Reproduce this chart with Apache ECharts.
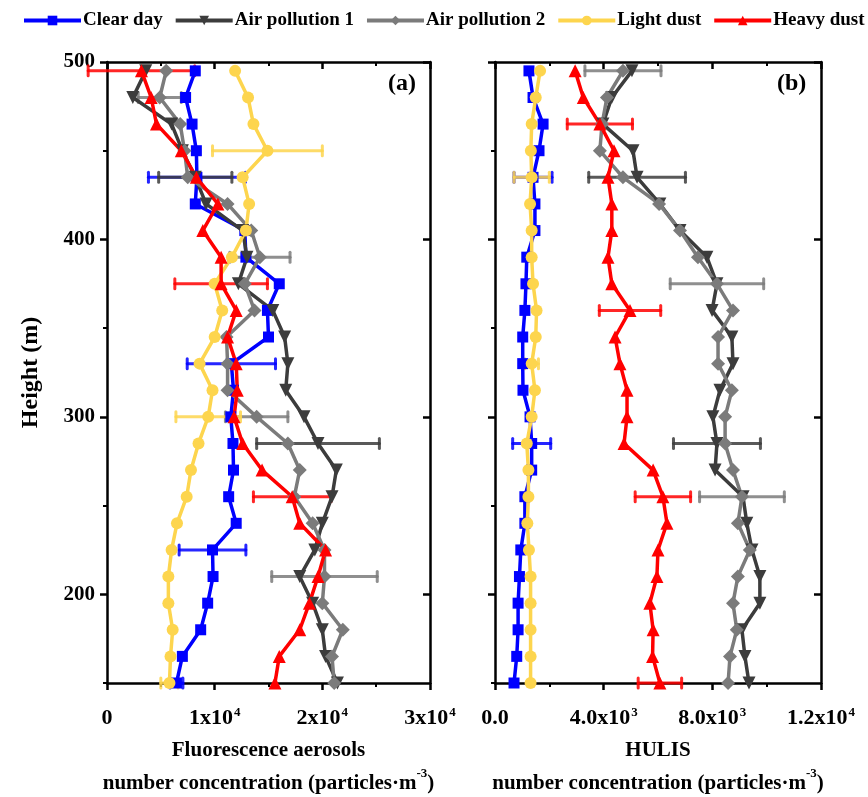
<!DOCTYPE html>
<html>
<head>
<meta charset="utf-8">
<script src="https://cdn.jsdelivr.net/npm/echarts@6/dist/echarts.min.js"></script>
<style>
html,body{margin:0;padding:0;background:#fff;}
#main{width:868px;height:797px;}
</style>
</head>
<body>
<div id="main"></div>
<script>
// ---------- data ----------
const heights = [495,480,465,450,435,420,405,390,375,360,345,330,315,300,285,270,255,240,225,210,195,180,165,150];
const seriesNames = ['Clear day','Air pollution 1','Air pollution 2','Light dust','Heavy dust'];

// Panel (a): fluorescence aerosols (particles m^-3)
const faClear = [8200,7300,7900,8300,8350,8200,12800,12900,16000,14900,15000,11550,11750,11500,11700,11750,11300,12000,9800,9850,9350,8700,7000,6450];
const faAP1   = [3600,2400,6000,7000,8200,9200,12600,13000,12200,15400,16500,16800,16600,18300,19600,21300,20900,20000,19300,17900,19100,20000,20300,21400];
const faAP2   = [5500,4900,6800,7200,7500,11200,13400,14200,12800,13700,11100,11200,11200,13900,16800,17900,17400,19100,20200,20200,20000,21900,20900,21100];
const faLight = [11900,13100,13600,14900,12600,13200,12900,11600,10000,10700,10000,8600,9800,9400,8500,7800,7400,6500,6000,5700,5700,6100,5900,5800];
const faHeavy = [3200,4100,4600,6900,8300,10300,8900,10600,10600,12000,11200,12000,12100,11800,12600,14400,17200,17900,20300,19600,18800,17900,16000,15600];

// Panel (b): HULIS (particles m^-3)
const huClear = [1250,1400,1770,1620,1400,1470,1470,1170,1140,1100,1020,1020,1030,1290,1350,1350,1100,1100,950,900,850,850,800,700];
const huAP1   = [5040,4300,3970,5080,5230,6070,6810,7800,8170,7990,8720,8760,8280,8020,8170,8100,9130,9270,9460,9750,9750,9090,9200,9350];
const huAP2   = [4710,4120,3940,3860,4710,6040,6810,7470,8170,8760,8210,8210,8720,8470,8470,8760,9090,8940,9380,8940,8760,8900,8650,8580];
const huLight = [1660,1500,1350,1320,1350,1290,1350,1350,1400,1530,1500,1350,1470,1350,1170,1230,1230,1190,1250,1310,1310,1310,1310,1310];
const huHeavy = [2950,3250,3860,4380,4160,4300,4300,4160,4300,4970,4420,4600,4860,4860,4750,5820,6180,6330,6000,5960,5700,5820,5800,6070];

// error bars: [height, half-width]
const faClearErr = [[435,4500],[330,4100],[225,3100],[150,600]];
const faAP1Err   = [[435,3400],[285,5700]];
const faAP2Err   = [[480,2000],[390,2800],[300,2900],[210,4900]];
const faLightErr = [[450,5100],[300,3000],[150,800]];
const faHeavyErr = [[495,4950],[375,4300],[255,3600]];
const huClearErr = [[435,700],[285,700]];
const huAP1Err   = [[435,1780],[285,1600]];
const huAP2Err   = [[495,1400],[375,1720],[255,1560]];
const huLightErr = [[435,650],[330,250]];
const huHeavyErr = [[465,1200],[360,1130],[255,1020],[150,800]];

const yMajor = [200,300,400,500];
const yMinor = [150,250,350,450];

// ---------- style ----------
const FONT = '"Liberation Serif","Times New Roman",serif';
const colors = ['#0000ff','#3c3c3c','#7b7b7b','#fdd54e','#ff0000'];
const symbols = ['rect','triangle','diamond','circle','triangle'];
const symRot = [0,180,0,0,0];
const symSize = [11,13,14,12,13];

function pairs(vals){ return vals.map((v,i)=>[v,heights[i]]); }
function errData(vals, errs){ return errs.map(e=>[vals[heights.indexOf(e[0])], e[0], e[1]]); }

function errSeries(name, vals, errs, color, gi){
  return {
    type:'custom', name:name+' err', xAxisIndex:gi*2, yAxisIndex:gi*4,
    clip:false, z:3, silent:true,
    data: errData(vals, errs),
    renderItem: function(params, api){
      const c=api.value(0), h=api.value(1), d=api.value(2);
      const p1=api.coord([c-d,h]), p2=api.coord([c+d,h]);
      const cap=5;
      const st={stroke:color, lineWidth:3, opacity:0.85, lineCap:'round'};
      return {type:'group', children:[
        {type:'line', shape:{x1:p1[0],y1:p1[1],x2:p2[0],y2:p2[1]}, style:st},
        {type:'line', shape:{x1:p1[0],y1:p1[1]-cap,x2:p1[0],y2:p1[1]+cap}, style:st},
        {type:'line', shape:{x1:p2[0],y1:p2[1]-cap,x2:p2[0],y2:p2[1]+cap}, style:st}
      ]};
    }
  };
}
function lineSeries(k, vals, gi){
  return {
    type:'line', name:seriesNames[k], xAxisIndex:gi*2, yAxisIndex:gi*4,
    data: pairs(vals), symbol:symbols[k], symbolRotate:symRot[k], symbolSize:symSize[k],
    showAllSymbol:true, z:4,
    itemStyle:{color:colors[k]}, lineStyle:{color:colors[k], width:3.5}
  };
}

const grids = [
  {left:107, top:62, width:323, height:621, outerBoundsMode:'none', containLabel:false},
  {left:495, top:62, width:326, height:621, outerBoundsMode:'none', containLabel:false}
];

function supFmt(v, decimals){
  if (v===0) return decimals ? '{b|0.0}' : '{b|0}';
  const e=Math.floor(Math.log10(v)+1e-9);
  const m=v/Math.pow(10,e);
  return '{b|'+(decimals?m.toFixed(1):String(Math.round(m)))+'x10}{s|'+e+'}';
}
const labRich = {
  b:{fontFamily:FONT, fontWeight:'bold', fontSize:22, color:'#000', lineHeight:24},
  s:{fontFamily:FONT, fontWeight:'bold', fontSize:13, color:'#000', verticalAlign:'top', lineHeight:14, padding:[0,0,0,1]}
};
const nameRich = {
  s:{fontFamily:FONT, fontWeight:'bold', fontSize:13, color:'#000', verticalAlign:'top', lineHeight:14}
};

function xAxes(gi, max, interval, decimals, name){
  const line={show:true, onZero:false, lineStyle:{color:'#000', width:2.5}};
  return [
    {type:'value', gridIndex:gi, position:'bottom', min:0, max:max, interval:interval,
     axisLine:line, splitLine:{show:false},
     axisTick:{show:true, inside:false, length:7, lineStyle:{color:'#000', width:2.5}},
     minorTick:{show:true, splitNumber:2, length:4, lineStyle:{color:'#000', width:2}},
     axisLabel:{margin:23, formatter:v=>supFmt(v,decimals), rich:labRich},
     name:name, nameLocation:'middle', nameGap:51,
     nameTextStyle:{fontFamily:FONT, fontWeight:'bold', fontSize:21, color:'#000', lineHeight:33, rich:nameRich}},
    {type:'value', gridIndex:gi, position:'top', min:0, max:max, interval:interval,
     axisLine:line, splitLine:{show:false},
     axisTick:{show:true, inside:true, length:7, lineStyle:{color:'#000', width:2.5}},
     minorTick:{show:true, splitNumber:2, length:4, lineStyle:{color:'#000', width:2}},
     axisLabel:{show:false}}
  ];
}
function yAxes(gi, labels){
  const base={type:'value', gridIndex:gi, min:150, max:500, interval:50, splitLine:{show:false}};
  const line={show:true, onZero:false, lineStyle:{color:'#000', width:2.5}};
  const ax0 = Object.assign({}, base, {
    position:'left', axisLine:line,
    axisTick:{show:true, inside:false, length:7, customValues:yMajor, lineStyle:{color:'#000', width:2.5}},
    axisLabel:{show:labels, customValues:yMajor, margin:12, fontFamily:FONT, fontWeight:'bold', fontSize:21, color:'#000',
      formatter:v=>(v%100===0?String(v):'')}
  });
  if (labels){
    Object.assign(ax0, {name:'Height (m)', nameLocation:'middle', nameGap:64, nameRotate:90,
      nameTextStyle:{fontFamily:FONT, fontWeight:'bold', fontSize:24, color:'#000'}});
  }
  return [
    ax0,
    Object.assign({}, base, {position:'left', axisLine:{show:false},
      axisTick:{show:true, inside:false, length:4, customValues:yMinor, lineStyle:{color:'#000', width:2}},
      axisLabel:{show:false}}),
    Object.assign({}, base, {position:'right', axisLine:line,
      axisTick:{show:true, inside:true, length:7, customValues:yMajor, lineStyle:{color:'#000', width:2.5}},
      axisLabel:{show:false}}),
    Object.assign({}, base, {position:'right', axisLine:{show:false},
      axisTick:{show:true, inside:true, length:4, customValues:yMinor, lineStyle:{color:'#000', width:2}},
      axisLabel:{show:false}})
  ];
}

const series = [];
const faVals=[faClear,faAP1,faAP2,faLight,faHeavy];
const faErrs=[faClearErr,faAP1Err,faAP2Err,faLightErr,faHeavyErr];
const huVals=[huClear,huAP1,huAP2,huLight,huHeavy];
const huErrs=[huClearErr,huAP1Err,huAP2Err,huLightErr,huHeavyErr];
for (let k=0;k<5;k++){
  series.push(errSeries(seriesNames[k]+' a', faVals[k], faErrs[k], colors[k], 0));
  series.push(lineSeries(k, faVals[k], 0));
}
for (let k=0;k<5;k++){
  series.push(errSeries(seriesNames[k]+' b', huVals[k], huErrs[k], colors[k], 1));
  series.push(lineSeries(k, huVals[k], 1));
}

const option = {
  backgroundColor:'#fff',
  animation:false,
  legend:{
    data:seriesNames, top:11, left:22, width:868, padding:0, itemWidth:57, itemHeight:12, itemGap:11,
    lineStyle:{width:4},
    textStyle:{fontFamily:FONT, fontWeight:'bold', fontSize:19, color:'#000', padding:[0,0,0,-3]}
  },
  grid:grids,
  xAxis:[].concat(
    xAxes(0, 30000, 10000, false, 'Fluorescence aerosols\nnumber concentration (particles·m{s|-3})'),
    xAxes(1, 12000, 4000, true, 'HULIS\nnumber concentration (particles·m{s|-3})')
  ),
  yAxis:[].concat(yAxes(0,true), yAxes(1,false)),
  series:series,
  graphic:[
    {type:'text', left:388, top:72, style:{text:'(a)', font:'bold 24px '+FONT, fill:'#000'}},
    {type:'text', left:777, top:72, style:{text:'(b)', font:'bold 24px '+FONT, fill:'#000'}}
  ]
};
const chart = echarts.init(document.getElementById('main'), null, {renderer:'canvas'});
chart.setOption(option);
</script>
</body>
</html>
